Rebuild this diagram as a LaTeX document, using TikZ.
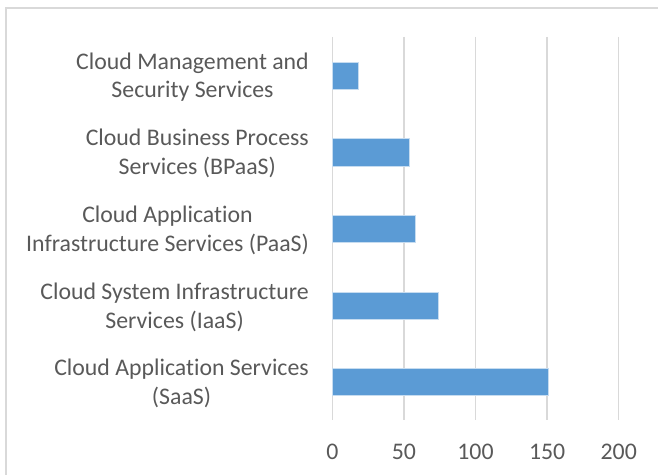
\documentclass[tikz,border=0pt]{standalone}
\usepackage{fontspec}
\setmainfont{Carlito}[Ligatures=NoCommon]
\definecolor{barblue}{HTML}{5B9BD5}
\definecolor{gridgray}{HTML}{D9D9D9}
\definecolor{labelgray}{HTML}{595959}
\begin{document}
\begin{tikzpicture}[x=1bp,y=-1bp,
  catlabel/.style={anchor=east,align=center,text=labelgray,inner sep=0pt,
    font=\fontsize{23.9}{29}\selectfont},
  ticklabel/.style={text=labelgray,inner sep=0pt,font=\fontsize{23.9}{29}\selectfont},
  gridline/.style={draw=gridgray,line width=1.3bp},
  hbar/.style={fill=barblue,draw=white!65!barblue,line width=0.6bp}]
\useasboundingbox (0,0) rectangle (658,475);
% chart frame
\draw[gridgray,line width=1.2bp] (6,490) -- (6,8) -- (670,8);

% grid lines and axis numbers
\foreach \v in {0,50,100,150,200}{
  \draw[gridline] (332.3+1.432*\v,37) -- (332.3+1.432*\v,420);
  \node[ticklabel] (tick\v) at (332.3+1.432*\v,452) {\v};
}

% bars and category labels
\foreach \i/\v/\txt in {1/18/{Cloud Management and\\Security Services},
    2/54/{Cloud Business Process\\Services (BPaaS)},
    3/58/{Cloud Application\\Infrastructure Services (PaaS)},
    4/74/{Cloud System Infrastructure\\Services (IaaS)},
    5/151/{Cloud Application Services\\(SaaS)}}{
  \fill[hbar] (332.3,75.7+76.6*\i-76.6-13.6) rectangle (332.3+1.432*\v,75.7+76.6*\i-76.6+13.6);
  \node[catlabel] (cat\i) at (309,77.2+76.6*\i-76.6) {\txt};
}
\end{tikzpicture}
\end{document}
